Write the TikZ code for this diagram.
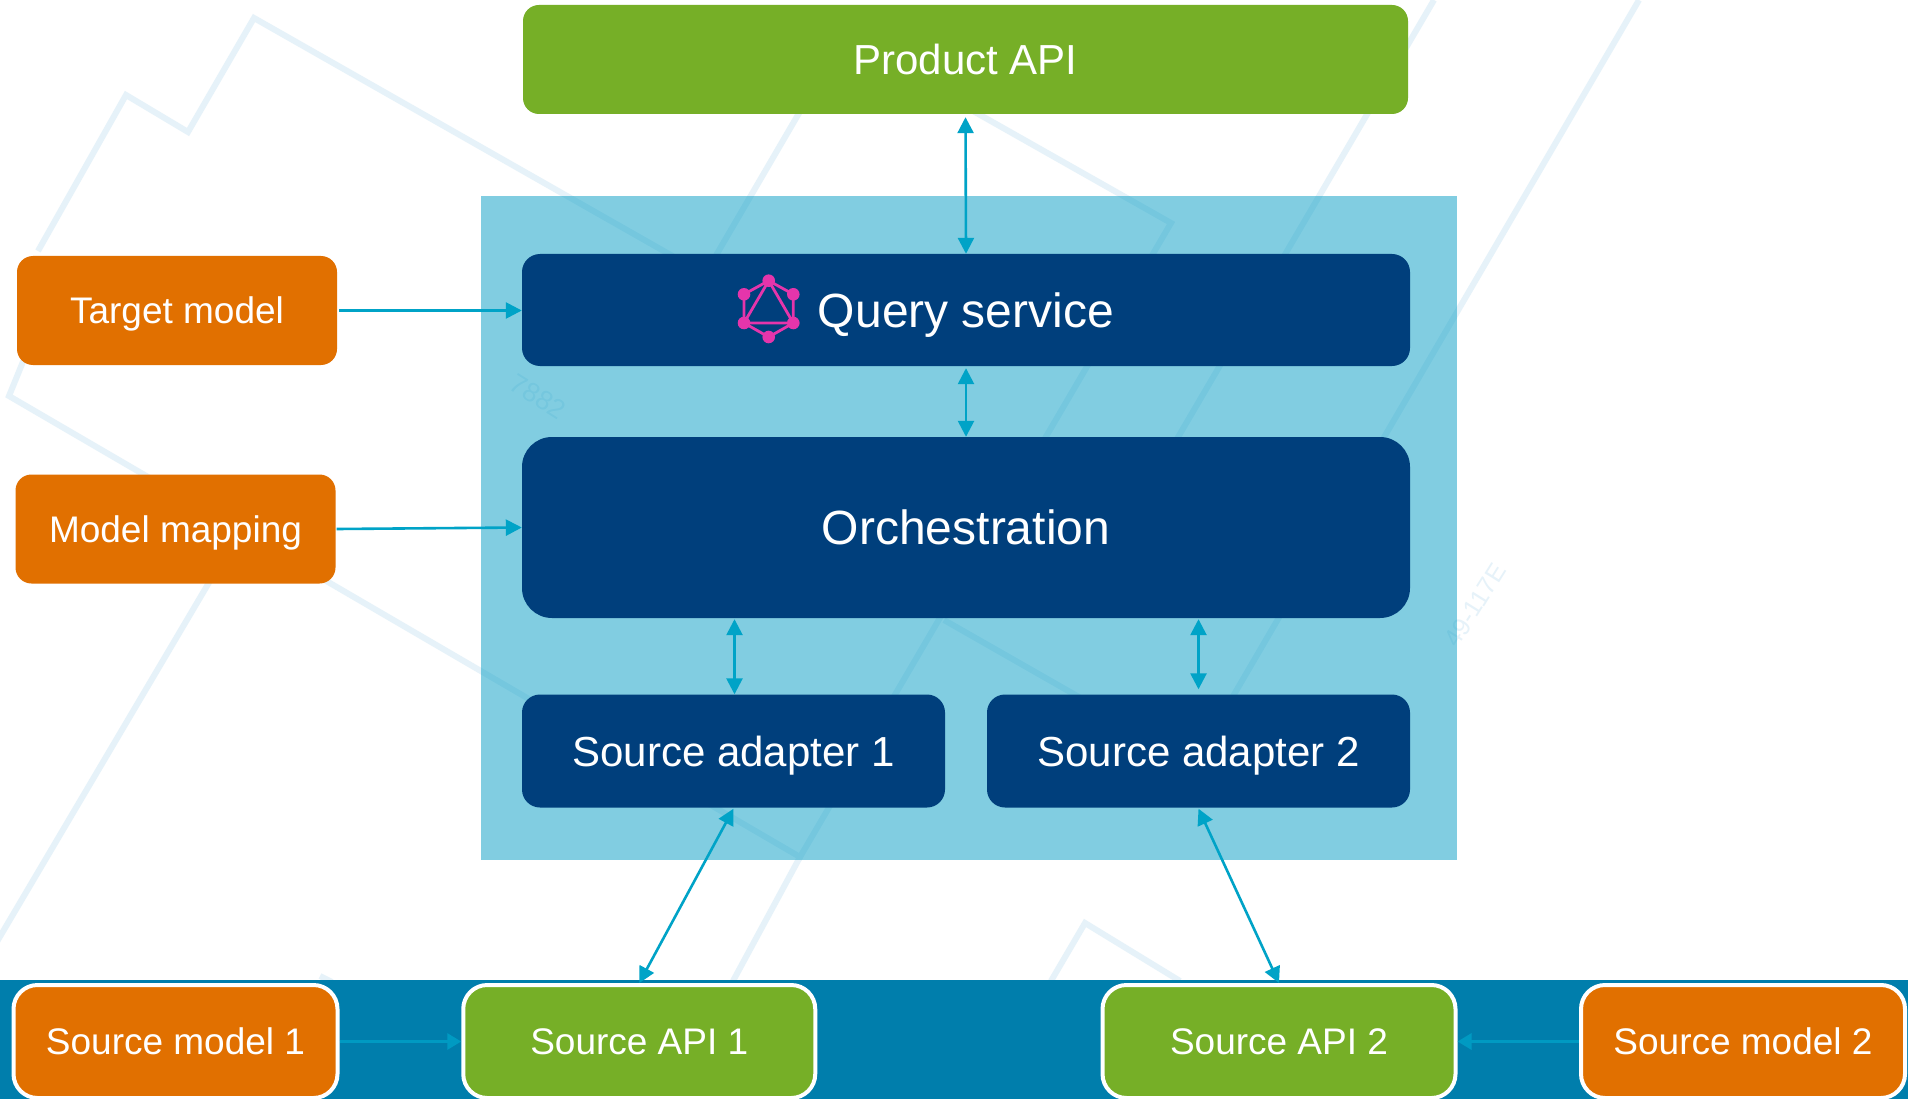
\documentclass[tikz,border=0pt]{standalone}
\usepackage{fontspec}
\setmainfont{Liberation Sans}
\usetikzlibrary{arrows.meta,calc}
\definecolor{cgreen}{HTML}{76AF27}
\definecolor{corange}{HTML}{E17000}
\definecolor{cnavy}{HTML}{003F7C}
\definecolor{cband}{HTML}{007EAC}
\definecolor{cpanel}{RGB}{5,157,197}
\definecolor{carrow}{HTML}{00A3C7}
\definecolor{cbandarrow}{HTML}{009AC2}
\definecolor{cwm}{HTML}{E6F2F9}
\definecolor{cpink}{HTML}{E535AB}
\tikzset{
  x=1pt,y=-1pt,
  boxbase/.style={rectangle,inner sep=0pt,text=white,text depth=0pt,align=center},
  smalltext/.style={font=\fontsize{37}{42}\selectfont,text height=26.5pt},
  midtext/.style={font=\fontsize{42}{48}\selectfont,text height=30pt},
  largetext/.style={font=\fontsize{48}{54}\selectfont,text height=34.4pt},
  greenbox/.style={boxbase,fill=cgreen},
  orangebox/.style={boxbase,smalltext,fill=corange,rounded corners=16pt},
  navybox/.style={boxbase,fill=cnavy},
  bottomgreen/.style={boxbase,smalltext,fill=cgreen,draw=white,line width=4pt,rounded corners=24pt},
  bottomorange/.style={boxbase,smalltext,fill=corange,draw=white,line width=4pt,rounded corners=24pt},
  flow/.style={draw=carrow,line width=2.6pt,-{Triangle[length=16pt,width=16pt]}},
  flowboth/.style={draw=carrow,line width=2.6pt,{Triangle[length=16pt,width=16pt]}-{Triangle[length=16pt,width=16pt]}},
  bandflow/.style={draw=cbandarrow,line width=3pt,-{Triangle[length=14pt,width=16pt]}},
  wmline/.style={draw=cwm,line width=6pt,miter limit=10},
  wmtext/.style={inner sep=0pt,text=cwm,font=\fontsize{25}{28}\selectfont},
  logoline/.style={draw=cpink,line width=2.8pt},
  logodot/.style={fill=cpink},
}
\begin{document}
\begin{tikzpicture}
\useasboundingbox (0,0) rectangle (1908,1099);
\fill[white] (0,0) rectangle (1908,1099);

% faint background shapes
\draw[wmline] (38,251) -- (126,95) -- (188,132) -- (254,18) -- (720,283);
\draw[wmline] (40,320) -- (9,396) -- (800,857) -- (1171,223) -- (830,30);
\draw[wmline] (800,857) -- (733,981);
\draw[wmline] (830,60) -- (690,300);
\draw[wmline] (1434,0) -- (1150,485);
\draw[wmline] (1639,0) -- (1190,770);
\draw[wmline] (944,620) -- (1100,709);
\draw[wmline] (240,530) -- (-5,945);
\draw[wmline] (1051,981) -- (1085,923) -- (1180,981);
\draw[wmline] (320,976) -- (332,982);
\node[wmtext,rotate=58] (wmb) at (1475,605) {49-117E};
\node[wmtext,font=\fontsize{27}{30}\selectfont,rotate=-32] (wma) at (538,397) {7882};

% panel and band
\fill[cpanel,fill opacity=.5] (481,196) rectangle (1457,860);
\fill[cband] (0,980) rectangle (1908,1099);

% boxes
\node[greenbox,midtext,rounded corners=16pt,minimum width=885pt,minimum height=109pt] (prod) at (965.5,59.5) {Product API};
\node[navybox,largetext,rounded corners=18pt,minimum width=888pt,minimum height=112pt] (query) at (966,310) {Query service};
\node[navybox,largetext,rounded corners=30pt,minimum width=888pt,minimum height=181pt] (orch) at (966,527.5) {Orchestration};
\node[navybox,midtext,rounded corners=18pt,minimum width=423pt,minimum height=113pt] (sa1) at (733.5,751) {Source adapter 1};
\node[navybox,midtext,rounded corners=18pt,minimum width=423pt,minimum height=113pt] (sa2) at (1198.5,751) {Source adapter 2};
\node[orangebox,minimum width=320pt,minimum height=109pt] (target) at (177,310.5) {Target model};
\node[orangebox,minimum width=320pt,minimum height=109pt] (mapping) at (175.5,529) {Model mapping};
\node[bottomorange,minimum width=324pt,minimum height=113pt] (sm1) at (175.5,1041.5) {Source model 1};
\node[bottomgreen,minimum width=352pt,minimum height=113pt] (api1) at (639.25,1041.5) {Source API 1};
\node[bottomgreen,minimum width=353pt,minimum height=113pt] (api2) at (1279,1041.5) {Source API 2};
\node[bottomorange,minimum width=324pt,minimum height=113pt] (sm2) at (1743,1041.5) {Source model 2};

% GraphQL logo
\coordinate (lt) at (768.7,280.7);
\coordinate (lur) at (793.3,294.3);
\coordinate (lul) at (744,294.3);
\coordinate (lll) at (744,323);
\coordinate (llr) at (793.3,323);
\coordinate (lb) at (768.7,337);
\draw[logoline] (lt) -- (lur) -- (llr) -- (lb) -- (lll) -- (lul) -- cycle;
\draw[logoline] (lt) -- (llr) -- (lll) -- cycle;
\foreach \p in {lt,lur,lul,lll,llr,lb} \fill[logodot] (\p) circle (6.3pt);

% connectors
\draw[flowboth] ($(prod.south)+(0,3)$) -- (query.north);
\draw[flowboth] ($(query.south)+(0,2)$) -- (orch.north);
\draw[flow] ($(target.east)+(2,0)$) -- (target.east -| query.west);
\draw[flow] ($(mapping.east)+(1,0)$) -- (orch.west);
\draw[flowboth] ($(sa1.north |- orch.south)+(1,1)$) -- ($(sa1.north)+(1,0)$);
\draw[flowboth] ($(sa2.north |- orch.south)+(0,1)$) -- ($(sa2.north)+(0,-5)$);
\draw[flowboth] ($(sa1.south)+(0,1)$) -- (api1.north);
\draw[flowboth] ($(sa2.south)+(0,1)$) -- (api2.north);
\draw[bandflow] (sm1.east) -- (api1.west);
\draw[bandflow] (sm2.west) -- (api2.east);
\end{tikzpicture}
\end{document}
